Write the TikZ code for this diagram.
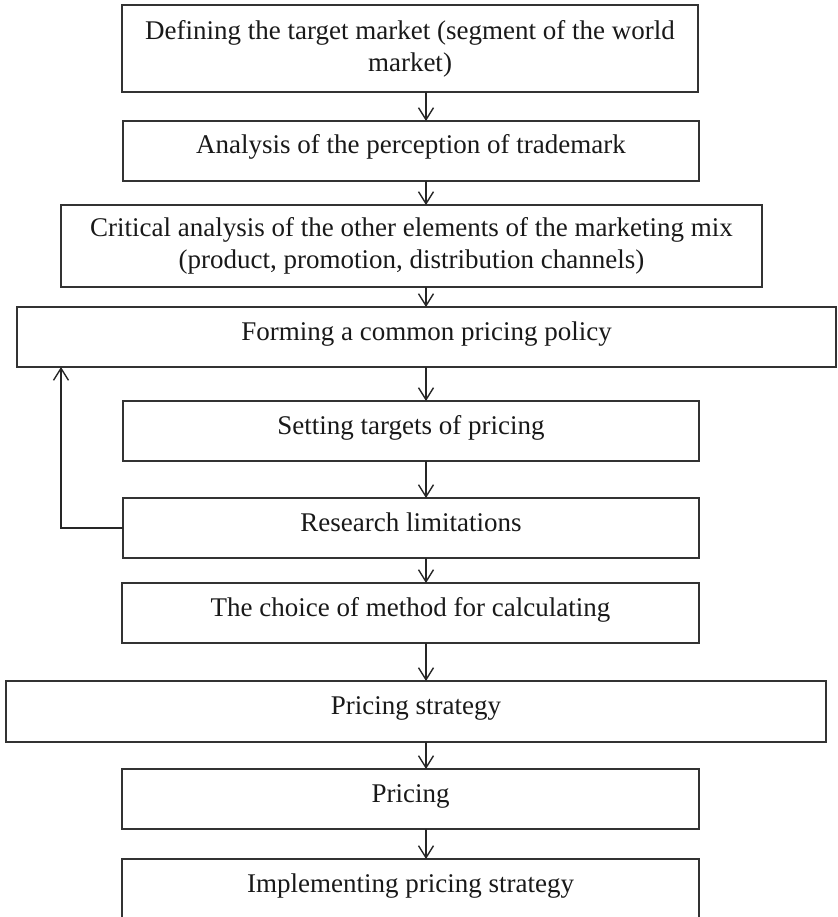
\documentclass[tikz,border=0pt]{standalone}
\usepackage{fontspec}
\setmainfont{Liberation Serif}
\usetikzlibrary{arrows.meta}

\begin{document}
\begin{tikzpicture}[x=1pt, y=-1pt,
  box/.style={draw=black!80, line width=1.4pt, rectangle, inner sep=0pt, outer sep=0pt,
    font=\fontsize{27}{32}\selectfont, text=black!90},
  oneline/.style={box, text height=18pt, text depth=12pt},
  twoline/.style={box, align=center},
  arr/.style={draw=black!85, line width=1.4pt,
    -{Straight Barb[length=12pt, width=15pt, line width=1.4pt]}}
]
  % page frame, clipped at the bottom edge
  \path[use as bounding box, clip] (0,0) rectangle (837,917);

  % process steps
  \node[twoline, minimum width=576pt, minimum height=87pt] (b1) at (410,48.5)
    {Defining the target market (segment of the world\\market)};
  \node[oneline, minimum width=576pt, minimum height=60pt] (b2) at (411,151)
    {Analysis of the perception of trademark};
  \node[twoline, minimum width=701pt, minimum height=82pt] (b3) at (411.5,246)
    {Critical analysis of the other elements of the marketing mix\\(product, promotion, distribution channels)};
  \node[oneline, minimum width=819pt, minimum height=60pt] (b4) at (426.5,337)
    {Forming a common pricing policy};
  \node[oneline, minimum width=576pt, minimum height=60pt] (b5) at (411,431)
    {Setting targets of pricing};
  \node[oneline, minimum width=576pt, minimum height=60pt] (b6) at (411,528)
    {Research limitations};
  \node[oneline, minimum width=577pt, minimum height=60pt] (b7) at (410.5,613)
    {The choice of method for calculating};
  \node[oneline, minimum width=820pt, minimum height=61pt] (b8) at (416,711.5)
    {Pricing strategy};
  \node[oneline, minimum width=577pt, minimum height=60pt] (b9) at (410.5,799)
    {Pricing};
  \node[oneline, minimum width=577pt, minimum height=60pt] (b10) at (410.5,889)
    {Implementing pricing strategy};

  % vertical axis of the flow arrows and the feedback line
  \coordinate (ax) at (426,0);
  \coordinate (fb) at (61,528);

  \foreach \u/\l in {b1/b2, b2/b3, b3/b4, b4/b5, b5/b6, b6/b7, b7/b8, b8/b9, b9/b10}
    \draw[arr] (\u.south -| ax) -- (\l.north -| ax);

  % feedback from the limitations back to the pricing policy
  \draw[arr] (b6.west) -- (fb) -- (fb |- b4.south);
\end{tikzpicture}
\end{document}
